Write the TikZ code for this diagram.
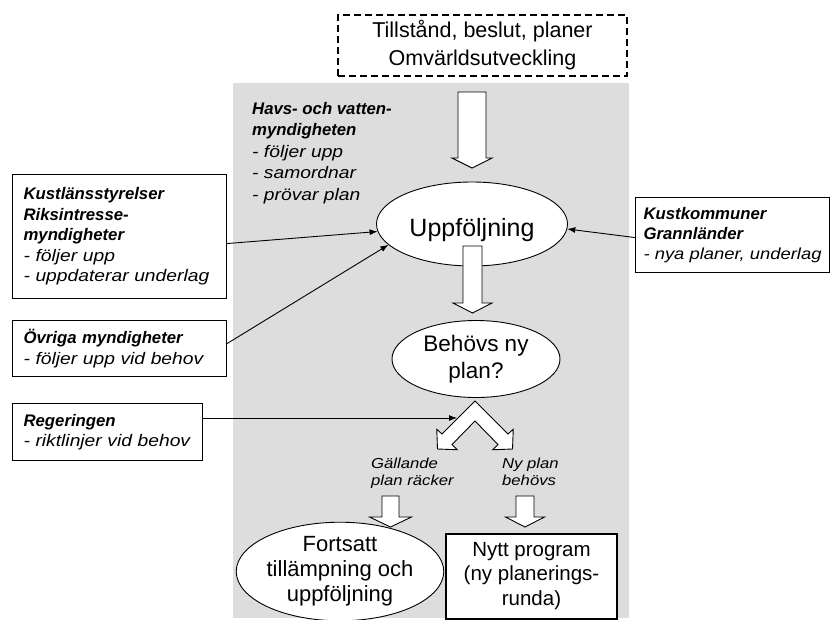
\documentclass[tikz,border=0pt]{standalone}
\usepackage{fontspec}
\setmainfont{Liberation Sans}
\newfontfamily\descfont{Liberation Sans}[FakeStretch=1.15]
\usetikzlibrary{shapes.geometric,arrows.meta}
\definecolor{panel}{HTML}{DDDDDD}
\newcommand\setfs[2]{\fontsize{#1}{#2}\selectfont}
\newcommand\hd[1]{{\bfseries\itshape #1}}
\newcommand\dsc[1]{{\descfont\itshape #1}}
% downward block arrow: centre x, top, head base, tip, shaft half-width, head half-width
\newcommand\blkarrow[6]{%
  \draw[blockarrow] (#1-#5,#2) -- (#1+#5,#2) -- (#1+#5,#3) -- (#1+#6,#3)
    -- (#1,#4) -- (#1-#6,#3) -- (#1-#5,#3) -- cycle;}
\begin{document}
\begin{tikzpicture}[x=1pt,y=-1pt,
  bubble/.style={ellipse, draw, fill=white, line width=0.9pt, inner sep=0pt, align=center},
  infobox/.style={rectangle, draw, fill=white, line width=1.1pt, align=left,
    anchor=north west, font=\setfs{16.75}{20.5}},
  dashbox/.style={rectangle, draw, fill=white, line width=1.8pt,
    dash pattern=on 7pt off 4pt, align=center},
  blockarrow/.style={draw, fill=white, line width=0.9pt, line join=miter},
  conn/.style={line width=0.9pt, -{Latex[length=8pt,width=6pt]}},
  note/.style={align=left, inner sep=0pt, anchor=north west}]
\useasboundingbox (0,0) rectangle (830,619);

% shaded area of the agency's own work
\fill[panel] (233,83) rectangle (629,618);

% external input
\node[dashbox, minimum width=289pt, minimum height=61pt, font=\setfs{21.5}{28}]
  (src) at (482.5,45.5) {Tillstånd, beslut, planer\\Omvärldsutveckling};

% responsible agency
\node[note, font=\setfs{16.75}{21.5}] (hav) at (252,102)
  {\hd{Havs- och vatten-}\\\hd{myndigheten}\\\dsc{- följer upp}\\\dsc{- samordnar}\\\dsc{- prövar plan}};

% main process
\node[bubble, minimum width=191pt, minimum height=84pt, font=\setfs{25}{28},
  text height=24pt, text depth=0pt] (upp) at (472,224) {Uppföljning};
\node[bubble, minimum width=168pt, minimum height=77pt, font=\setfs{22.5}{27}]
  (beh) at (476,359) {Behövs ny\\plan?};
\node[bubble, minimum width=184pt, minimum height=91pt, font=\setfs{22}{25}]
  (fort) at (340,571.5) {Fortsatt\\tillämpning och\\uppföljning};
\node[rectangle, draw, fill=white, line width=2pt, minimum width=171pt,
  minimum height=85pt, align=center, font=\setfs{20.5}{24.5}]
  (nytt) at (531.5,576) {Nytt program\\(ny planerings-\\runda)};

% other actors
\node[infobox, text width=192pt, inner xsep=11pt, minimum height=124pt] (kls) at (12,174)
  {\hd{Kustlänsstyrelser}\\\hd{Riksintresse-}\\\hd{myndigheter}\\\dsc{- följer upp}\\\dsc{- uppdaterar underlag}};
\node[infobox, text width=192pt, inner xsep=11pt, minimum height=56pt] (ovr) at (12,320)
  {\hd{Övriga myndigheter}\\\dsc{- följer upp vid behov}};
\node[infobox, text width=168pt, inner xsep=11pt, minimum height=57pt] (reg) at (12,403)
  {\hd{Regeringen}\\\dsc{- riktlinjer vid behov}};
\node[infobox, minimum width=194pt, minimum height=75pt, font=\setfs{16.75}{20}] (kom) at (635,197)
  {\hd{Kustkommuner}\\\hd{Grannländer}\\{\descfont\itshape\setfs{16}{20}- nya planer, underlag}};

% block arrows of the main flow
\blkarrow{472}{92}{158}{168}{14}{20}
\blkarrow{472.5}{246}{303}{313}{9.5}{19.5}
\blkarrow{390.5}{496}{517}{527}{8.5}{21}
\blkarrow{525}{496}{517}{527}{9}{19.5}

% split into the two outcomes
\draw[blockarrow] (475,401) -- (442,434) -- (436.75,429.25) -- (437.5,449)
  -- (457.25,449.75) -- (452,444.5) -- (475,421) -- (498,444.5)
  -- (492.75,449.75) -- (512.5,449) -- (513.25,429.25) -- (508,434) -- cycle;
\coordinate (split) at (457,418);

\node[note, font=\setfs{14.5}{17}] (gal) at (371,457.5) {\dsc{Gällande}\\\dsc{plan räcker}};
\node[note, font=\setfs{14.5}{17}] (nyp) at (502,457.5) {\dsc{Ny plan}\\\dsc{behövs}};

% connectors from the actors
\draw[conn] ([yshift=-7pt]kls.east) -- (upp);
\draw[conn] ([yshift=5pt]ovr.east) -- (upp.194);
\draw[conn] ([yshift=-2.5pt]kom.west) -- (upp.357);
\draw[conn] (reg.east |- split) -- (split);
\end{tikzpicture}
\end{document}
